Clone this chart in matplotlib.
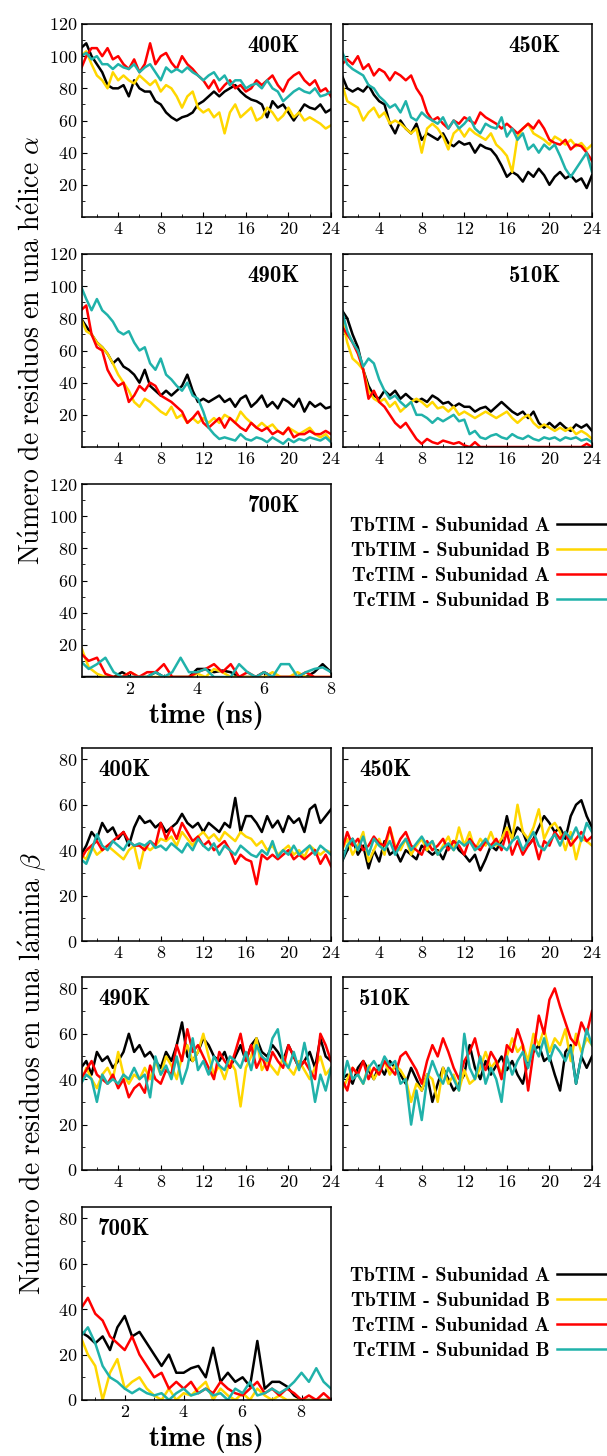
import matplotlib
matplotlib.use("Agg")
import matplotlib.pyplot as plt
import numpy as np
from matplotlib.ticker import MultipleLocator

plt.rcParams.update({
    "font.family": "serif",
    "font.serif": ["cmr10"],
    "mathtext.fontset": "cm",
    "axes.unicode_minus": False,
    "axes.formatter.use_mathtext": True,
    "axes.linewidth": 1.1,
    "xtick.direction": "in",
    "ytick.direction": "in",
    "xtick.labelsize": 13,
    "ytick.labelsize": 13,
    "xtick.major.size": 3.5,
    "ytick.major.size": 3.5,
    "xtick.minor.size": 2,
    "ytick.minor.size": 2,
    "xtick.major.pad": 3,
    "ytick.major.pad": 3,
})

labels = ["TbTIM - Subunidad A", "TbTIM - Subunidad B",
          "TcTIM - Subunidad A", "TcTIM - Subunidad B"]
colors = ["#000000", "#FFD700", "#FF0000", "#20B2AA"]

# time grids (ns)
t24 = np.arange(0.5, 24.01, 0.5)
t8 = np.arange(0.5, 8.01, 0.25)
t9 = np.arange(0.5, 9.01, 0.25)

# ---- residues in alpha helix ----
a400_tbA = [105,108,100,95,90,82,80,80,82,75,85,80,78,78,72,70,65,62,60,62,63,65,70,72,75,78,75,78,80,82,78,75,73,72,70,62,72,68,70,65,60,65,70,68,67,70,65,67]
a400_tbB = [100,103,95,88,85,80,90,85,88,85,83,88,85,82,85,78,82,80,75,68,75,78,68,65,67,62,65,52,65,70,62,65,68,60,62,68,65,60,63,68,62,65,60,62,60,58,55,57]
a400_tcA = [92,100,105,105,100,105,98,100,95,92,98,90,95,108,95,100,102,96,92,100,95,92,88,85,80,85,78,82,85,80,82,78,80,85,82,85,88,82,78,85,88,90,85,82,85,78,80,75]
a400_tcB = [100,102,98,100,95,95,92,95,93,92,95,90,93,95,90,85,93,90,92,90,93,90,88,85,88,90,85,88,82,85,85,80,82,83,80,85,80,78,72,75,78,80,78,77,80,75,76,78]

a450_tbA = [88,80,78,80,78,82,76,72,70,58,52,60,55,52,58,48,52,50,48,52,46,44,47,45,46,40,45,43,42,38,32,25,28,26,22,28,25,30,26,20,25,28,24,26,22,24,18,26]
a450_tbB = [83,72,70,68,60,65,68,62,65,58,60,58,55,52,55,40,55,58,55,50,42,52,55,50,55,52,50,48,52,45,42,38,28,50,55,58,52,50,48,45,50,48,45,48,44,46,42,45]
a450_tcA = [95,98,95,100,92,95,88,92,90,85,90,88,85,88,80,75,65,60,62,58,55,60,58,62,60,58,65,62,60,58,55,58,55,52,55,58,55,60,55,48,46,45,48,42,45,44,40,35]
a450_tcB = [103,95,92,90,88,82,80,75,72,68,70,65,72,62,60,65,62,60,58,62,55,60,55,58,62,55,52,58,56,55,62,50,55,48,52,42,45,40,45,42,45,38,30,25,30,35,40,28]

a490_tbA = [80,75,70,65,62,58,52,55,50,48,45,40,48,38,35,32,35,32,35,38,45,35,28,30,28,30,32,28,30,25,30,32,25,28,32,25,28,24,30,28,25,30,22,28,25,27,24,25]
a490_tbB = [80,72,70,65,62,58,52,45,40,35,28,25,30,28,25,22,20,25,18,20,15,18,15,18,15,18,15,20,18,15,22,18,15,12,15,12,14,10,8,12,10,8,10,12,8,6,8,4]
a490_tcA = [85,88,70,62,60,48,42,38,40,28,32,38,35,40,38,32,30,28,25,22,15,18,22,15,12,15,18,12,18,15,12,10,15,12,10,12,8,10,8,12,6,8,8,10,8,8,10,8]
a490_tcB = [100,92,85,92,85,82,78,72,70,72,65,60,62,52,48,55,45,42,38,35,40,32,30,22,12,8,5,6,5,4,8,5,4,6,5,3,6,4,2,5,3,5,4,6,5,4,6,3]

a510_tbA = [85,80,70,62,48,38,32,30,35,32,35,30,33,30,28,30,28,32,30,27,28,25,27,25,25,22,24,25,22,25,28,25,22,20,22,18,22,15,12,15,12,15,12,10,14,12,14,10]
a510_tbB = [80,65,55,52,48,35,30,28,30,25,28,22,25,28,30,28,25,28,24,25,22,25,20,22,20,18,20,22,20,18,20,22,18,15,18,20,15,12,14,12,10,12,10,12,8,10,8,5]
a510_tcA = [75,70,65,58,48,30,35,28,25,20,15,12,15,10,5,2,5,3,2,4,3,2,3,1,0,3,0,0,0,0,0,0,0,0,0,0,0,0,0,0,0,0,0,0,0,0,2,0]
a510_tcB = [85,72,65,60,50,55,52,42,35,30,32,28,25,28,20,20,18,15,18,16,18,20,16,17,8,10,6,5,7,8,6,5,8,6,5,7,5,4,6,5,6,4,6,5,6,4,5,3]

a700_tbA = [0,0,0,0,0,3,0,0,0,3,0,0,0,0,5,5,3,4,3,0,0,0,3,0,0,0,0,0,3,8,3]
a700_tbB = [20,6,2,0,0,0,3,0,0,0,0,0,0,0,2,0,5,3,0,0,0,0,0,3,0,0,3,0,0,0,0]
a700_tcA = [15,10,12,2,0,0,3,0,3,3,8,0,0,0,3,5,8,3,8,0,3,0,3,0,0,0,0,3,0,0,0]
a700_tcB = [10,5,8,12,3,0,0,0,0,3,0,3,12,3,3,5,0,0,0,8,3,0,3,0,8,8,0,3,5,6,3]

# ---- residues in beta sheet ----
b400_tbA = [38,42,48,45,52,48,50,45,48,42,50,55,52,53,50,52,48,50,52,56,52,50,52,48,52,50,48,52,50,63,48,55,55,52,48,55,50,53,48,55,52,54,48,58,60,52,55,58]
b400_tbB = [38,36,42,38,40,42,40,38,36,40,42,32,42,40,42,45,44,46,42,48,45,42,46,48,45,47,44,48,46,44,48,46,45,42,44,40,42,38,40,42,38,40,37,42,40,38,40,39]
b400_tcA = [36,40,42,44,40,42,44,46,48,44,42,42,40,44,42,52,45,50,45,52,48,44,46,42,44,40,42,44,40,34,38,36,35,25,38,36,38,36,38,40,36,38,36,38,40,34,38,33]
b400_tcB = [36,34,40,47,42,40,44,42,40,44,42,43,42,44,41,42,40,43,41,39,43,40,45,42,40,43,38,42,40,38,42,40,38,37,40,38,44,37,40,38,42,38,40,42,38,42,40,38]

b450_tbA = [35,40,45,38,42,32,40,35,44,38,40,35,40,38,36,42,40,38,40,36,42,44,40,38,35,38,31,36,42,40,44,55,45,50,48,42,45,50,55,52,48,50,45,55,60,62,55,50]
b450_tbB = [40,45,38,42,48,35,40,45,38,50,42,40,45,38,42,45,40,44,38,42,46,40,50,42,48,40,45,42,48,42,45,50,45,60,48,45,50,58,45,50,52,48,40,48,36,45,44,42]
b450_tcA = [40,48,42,45,40,42,46,43,42,50,40,45,48,42,40,38,44,40,42,45,40,44,42,38,45,42,40,44,42,45,40,48,38,44,38,42,45,36,44,42,48,45,48,42,45,48,44,46]
b450_tcB = [35,42,45,40,46,38,45,42,40,44,38,42,45,40,43,46,42,44,38,41,43,40,44,42,44,40,42,45,41,43,42,40,44,46,40,44,48,42,40,44,47,42,48,45,50,44,52,48]

b490_tbA = [45,48,42,52,48,50,45,48,52,60,52,55,50,52,48,45,52,48,55,65,50,48,52,58,55,50,48,52,45,50,55,48,55,58,52,50,55,52,48,55,50,45,48,52,45,58,50,48]
b490_tbB = [38,45,40,36,42,45,40,52,42,38,42,40,45,40,48,42,50,46,40,50,55,48,52,60,50,42,46,40,48,44,28,45,50,58,44,48,45,42,50,45,42,48,44,40,45,50,42,45]
b490_tcA = [40,44,48,42,40,38,42,36,40,32,36,38,34,46,40,38,44,42,55,48,62,52,55,50,45,40,52,48,45,52,60,48,55,45,50,44,52,48,45,55,50,45,48,44,40,60,55,48]
b490_tcB = [38,42,40,30,42,38,40,38,42,40,45,40,42,32,50,42,46,40,50,38,45,58,44,48,42,50,46,44,50,48,45,52,44,55,50,48,58,62,48,45,52,44,56,45,30,42,35,45]

b510_tbA = [40,42,38,45,48,44,40,46,42,48,45,42,38,45,40,35,42,30,38,45,40,35,38,42,55,45,40,48,42,46,50,44,48,42,38,48,52,55,48,50,42,35,52,55,38,50,45,50]
b510_tbB = [35,40,45,42,38,46,40,44,48,42,46,44,40,30,38,35,42,40,30,45,38,42,35,44,38,40,45,52,45,48,42,50,58,52,55,48,60,55,62,52,58,55,62,48,60,52,58,55]
b510_tcA = [40,35,45,42,48,40,45,42,48,45,42,50,52,48,44,38,48,55,50,58,52,45,40,48,52,58,48,44,52,48,40,55,52,62,55,35,52,68,60,75,80,72,65,58,55,65,60,70]
b510_tcB = [38,48,40,42,38,45,48,44,50,46,48,38,40,20,35,22,40,48,42,38,45,40,35,60,45,40,50,38,45,40,30,50,42,48,52,45,55,50,58,48,55,52,48,54,38,50,62,55]

b700_tbA = [30,28,25,28,22,32,37,28,30,25,20,15,20,12,12,14,15,10,23,8,12,8,10,6,26,5,8,8,6,2,0,0,0,0,0]
b700_tbB = [28,20,15,0,12,18,5,8,10,5,2,0,5,0,3,2,5,8,0,5,2,0,3,0,5,2,0,2,0,0,0,0,0,0,0]
b700_tcA = [40,45,38,35,28,25,22,28,20,15,10,12,5,8,5,8,3,5,3,8,5,3,2,5,8,3,5,2,5,3,0,2,0,3,0]
b700_tcB = [28,32,25,15,10,8,5,3,5,3,2,3,0,3,5,2,3,5,2,3,0,5,3,8,2,3,5,3,5,8,12,8,14,8,5]

W, H = 607, 1456
fig = plt.figure(figsize=(W / 100, H / 100), dpi=100)


def make_ax(x0, y0, w=249, h=193):
    return fig.add_axes([x0 / W, 1 - (y0 + h) / H, w / W, h / H])


def draw(ax, t, series, name, group, xmax, long_run, show_ylab):
    lines = []
    for y, c in zip(series, colors):
        ln, = ax.plot(t, y, color=c, lw=1.8)
        lines.append(ln)
    if long_run:
        ax.set_xlim(0.6, 24)
        ax.xaxis.set_major_locator(MultipleLocator(4))
        ax.xaxis.set_minor_locator(MultipleLocator(2))
    else:
        ax.set_xlim(0.55, xmax)
        ax.xaxis.set_major_locator(MultipleLocator(2))
        ax.xaxis.set_minor_locator(MultipleLocator(1))
    if group == "alpha":
        ax.set_ylim(0, 120)
        ax.set_yticks([20, 40, 60, 80, 100, 120])
        ax.yaxis.set_minor_locator(MultipleLocator(10))
        ax.text(0.77, 0.885, name, transform=ax.transAxes, family="cmb10",
                fontsize=16.5, ha="center", va="center")
    else:
        ax.set_ylim(0, 85)
        ax.set_yticks([0, 20, 40, 60, 80])
        ax.yaxis.set_minor_locator(MultipleLocator(10))
        ax.text(0.065, 0.885, name, transform=ax.transAxes, family="cmb10",
                fontsize=16.5, ha="left", va="center")
    if not show_ylab:
        ax.tick_params(axis="y", labelleft=False)
    return lines


# alpha helix group
ax = make_ax(82, 24)
handles = draw(ax, t24, [a400_tbA, a400_tbB, a400_tcA, a400_tcB], "400K", "alpha", 24, True, True)
ax = make_ax(343, 24)
draw(ax, t24, [a450_tbA, a450_tbB, a450_tcA, a450_tcB], "450K", "alpha", 24, True, False)
ax = make_ax(82, 254)
draw(ax, t24, [a490_tbA, a490_tbB, a490_tcA, a490_tcB], "490K", "alpha", 24, True, True)
ax = make_ax(343, 254)
draw(ax, t24, [a510_tbA, a510_tbB, a510_tcA, a510_tcB], "510K", "alpha", 24, True, False)
ax = make_ax(82, 484)
draw(ax, t8, [a700_tbA, a700_tbB, a700_tcA, a700_tcB], "700K", "alpha", 8, False, True)
ax.set_xlabel("time (ns)", family="cmb10", fontsize=20.5, labelpad=3)

# beta sheet group
ax = make_ax(82, 748)
draw(ax, t24, [b400_tbA, b400_tbB, b400_tcA, b400_tcB], "400K", "beta", 24, True, True)
ax = make_ax(343, 748)
draw(ax, t24, [b450_tbA, b450_tbB, b450_tcA, b450_tcB], "450K", "beta", 24, True, False)
ax = make_ax(82, 977)
draw(ax, t24, [b490_tbA, b490_tbB, b490_tcA, b490_tcB], "490K", "beta", 24, True, True)
ax = make_ax(343, 977)
draw(ax, t24, [b510_tbA, b510_tbB, b510_tcA, b510_tcB], "510K", "beta", 24, True, False)
ax = make_ax(82, 1207)
draw(ax, t9, [b700_tbA, b700_tbB, b700_tcA, b700_tcB], "700K", "beta", 9, False, True)
ax.set_xlabel("time (ns)", family="cmb10", fontsize=20.5, labelpad=3)

# y labels
fig.text(0.053, 1 - 350 / H,
         r"$\mathrm{N\acute{u}mero\ de\ residuos\ en\ una\ h\acute{e}lice}\ \alpha$",
         rotation=90, ha="center", va="center", fontsize=20)
fig.text(0.053, 1 - 1073 / H,
         r"$\mathrm{N\acute{u}mero\ de\ residuos\ en\ una\ l\acute{a}mina}\ \beta$",
         rotation=90, ha="center", va="center", fontsize=20)

# legends
for yc in (563.5, 1313.5):
    fig.legend(handles, labels, loc="center right",
               bbox_to_anchor=(1.033, 1 - yc / H), bbox_transform=fig.transFigure,
               frameon=False, markerfirst=False, handlelength=3.5,
               handletextpad=0.35, labelspacing=0.35, borderpad=0, borderaxespad=0,
               prop={"family": "cmb10", "size": 14.4})

fig.savefig("out.png", dpi=100)
